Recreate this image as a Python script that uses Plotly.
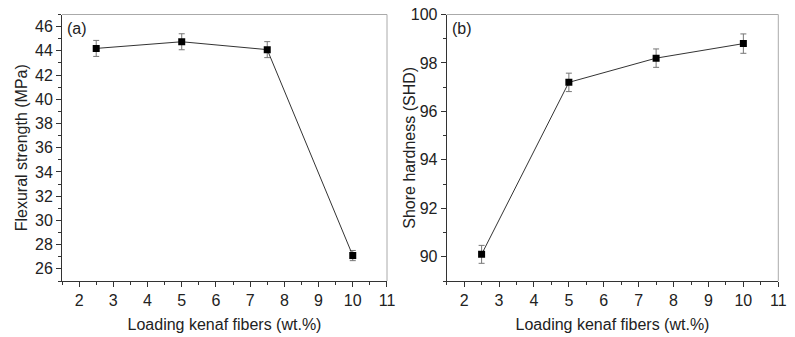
import plotly.graph_objects as go

loading = [2.5, 5, 7.5, 10]
flexural = [44.2, 44.75, 44.1, 27.1]
flexural_err = [0.66, 0.66, 0.66, 0.42]
hardness = [90.1, 97.2, 98.2, 98.8]
hardness_err = [0.37, 0.38, 0.38, 0.4]

font = "Liberation Sans, Arial, sans-serif"
W, H = 795, 337

fig = go.Figure()
for xa, ya, yv, ev in [("x", "y", flexural, flexural_err), ("x2", "y2", hardness, hardness_err)]:
    fig.add_trace(go.Scatter(
        x=loading, y=yv, xaxis=xa, yaxis=ya,
        mode="lines+markers",
        line=dict(color="#333", width=1),
        marker=dict(symbol="square", size=7, color="black"),
        error_y=dict(type="data", array=ev, color="#777", thickness=1, width=3),
        showlegend=False,
    ))

axis_common = dict(
    showgrid=False, zeroline=False, showline=True, linecolor="#333", linewidth=1,
    ticks="outside", ticklen=5, tickcolor="#333",
    tickfont=dict(family=font, size=16, color="#222"),
    title_font=dict(family=font, size=16, color="#222"),
    automargin=False, ticklabeloverflow="allow",
)
minor_x = dict(dtick=0.5, tick0=0, ticks="outside", ticklen=3, tickcolor="#333")
minor_y = dict(dtick=1, tick0=0, ticks="outside", ticklen=3, tickcolor="#333")
ydom = [1 - 281 / H, 1 - 14.5 / H]

fig.update_layout(
    width=W, height=H,
    margin=dict(l=0, r=0, t=0, b=0),
    plot_bgcolor="white", paper_bgcolor="white",
    xaxis=dict(domain=[62 / W, 387 / W], range=[1.5, 11.001], dtick=1, tick0=0, minor=minor_x,
               title=dict(text="Loading kenaf fibers (wt.%)", standoff=10), anchor="y", **axis_common),
    yaxis=dict(domain=ydom, range=[25, 47], dtick=2, tick0=0, minor=minor_y,
               title=dict(text="Flexural strength (MPa)", standoff=3), anchor="x", **axis_common),
    xaxis2=dict(domain=[446.7 / W, 778.3 / W], range=[1.5, 11.001], dtick=1, tick0=0, minor=minor_x,
                title=dict(text="Loading kenaf fibers (wt.%)", standoff=10), anchor="y2", **axis_common),
    yaxis2=dict(domain=ydom, range=[89, 100.002], dtick=2, tick0=0, minor=minor_y,
                anchor="x2", **axis_common),
)

# right y title placed by hand (it sits closer than the "100" label allows)
fig.add_annotation(xref="paper", yref="paper", x=410 / W, y=(ydom[0] + ydom[1]) / 2,
                   text="Shore hardness (SHD)", textangle=-90, showarrow=False,
                   font=dict(family=font, size=16, color="#222"))

# light top/right frame lines
for xr, yr in [("x domain", "y domain"), ("x2 domain", "y2 domain")]:
    fig.add_shape(type="line", xref=xr, yref=yr, x0=0, x1=1, y0=1, y1=1,
                  line=dict(color="#aaa", width=1))
    fig.add_shape(type="line", xref=xr, yref=yr, x0=1, x1=1, y0=0, y1=1,
                  line=dict(color="#aaa", width=1))

for xr, yr, label in [("x domain", "y domain", "(a)"), ("x2 domain", "y2 domain", "(b)")]:
    fig.add_annotation(xref=xr, yref=yr, x=0.01, y=0.985, text=label, showarrow=False,
                       xanchor="left", yanchor="top",
                       font=dict(family=font, size=16, color="#222"))

fig.write_html("out.html", config={"displayModeBar": False},
               post_script="document.body.style.margin='0';")
